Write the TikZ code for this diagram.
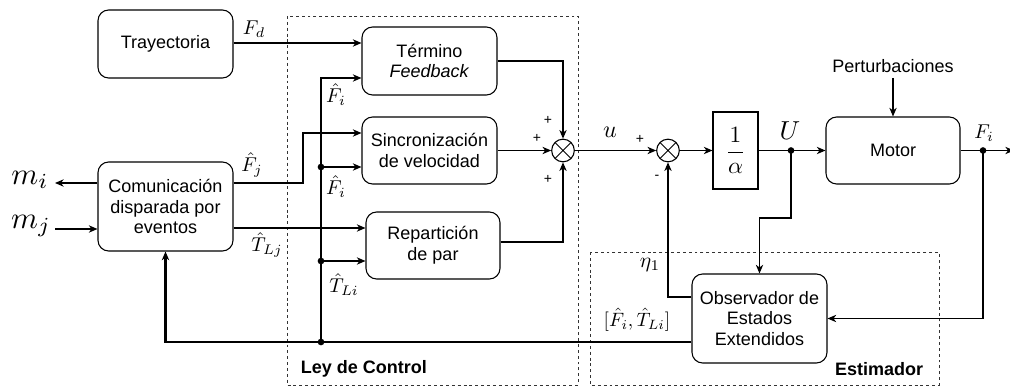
\documentclass[tikz,border=0pt]{standalone}
\usepackage{amsmath}
\usepackage{graphicx}
\usepackage{fontspec}
\setmainfont{Liberation Sans}
\usetikzlibrary{arrows.meta,calc}
\newcommand{\sig}[2]{\scalebox{#1}{$#2$}}
\begin{document}
\begin{tikzpicture}[x=0.75pt,y=-0.75pt,
  >={Stealth[length=6.5pt,width=5.5pt,inset=2pt]},
  line width=0.8pt,
  every node/.style={font=\fontsize{13.5}{15.5}\selectfont},
  blk/.style={draw,rounded corners=8pt,align=center,inner sep=0pt,line width=0.8pt},
  plainblk/.style={draw,inner sep=0pt,line width=0.8pt},
  sumnode/.style={draw,circle,minimum size=17pt,inner sep=0pt,line width=0.8pt,
    path picture={\draw[line width=0.7pt] (path picture bounding box.north west)--(path picture bounding box.south east)
      (path picture bounding box.north east)--(path picture bounding box.south west);}},
  region/.style={draw=black!80,dash pattern=on 2.2pt off 2.2pt,line width=0.7pt},
  jdot/.style={circle,fill,inner sep=0pt,minimum size=5pt},
  mlab/.style={font=\normalsize,inner sep=1pt},
  sgn/.style={font=\fontsize{10.5}{12}\selectfont},
  thickline/.style={line width=2pt}]
\useasboundingbox (0,0) rectangle (1010,388);

% dashed regions
\draw[region] (287,16) rectangle (578,385);
\draw[region] (590,252) rectangle (939,385);
\node[font=\fontsize{13.5}{15.5}\selectfont\bfseries,anchor=west] (leylab) at (296,369) {Ley de Control};
\node[font=\fontsize{13.5}{15.5}\selectfont\bfseries,anchor=east] (estlab) at (928,369) {Estimador};

% blocks
\node[blk,minimum width=101.25pt,minimum height=51pt] (tray) at (165.5,44) {Trayectoria};
\node[blk,minimum width=101.25pt,minimum height=66.75pt] (com) at (165.5,206.5) {Comunicación\\disparada por\\eventos};
\node[blk,minimum width=101.25pt,minimum height=51pt] (term) at (429.5,61) {Término\\\textit{Feedback}};
\node[blk,minimum width=101.25pt,minimum height=50.25pt] (sinc) at (429.5,150.5) {Sincronización\\de velocidad};
\node[blk,minimum width=100.5pt,minimum height=50.25pt] (rep) at (433,245.5) {Repartición\\de par};
\node[sumnode] (s1) at (563,150.5) {};
\node[sumnode] (s2) at (668,150.5) {};
\node[plainblk,minimum width=33.75pt,minimum height=57.75pt] (alp) at (735.5,150.5) {\normalsize\sig{1.75}{\dfrac{1}{\alpha}}};
\node[blk,minimum width=100.5pt,minimum height=50.25pt] (mot) at (893,150.5) {Motor};
\node[blk,minimum width=101.25pt,minimum height=66.75pt] (obs) at (759.5,318.5) {Observador de\\Estados\\Extendidos};
\node (pert) at (893,66) {Perturbaciones};

% junction points
\coordinate (j1) at (321,167);
\coordinate (j2) at (321,261);
\coordinate (j3) at (321,342);
\coordinate (jU) at (791,150.5);
\coordinate (jF) at (983,150.5);
\coordinate (mi) at (55,183);
\coordinate (mj) at (55,229);
\coordinate (fout) at (1014,150.5);

% reference and estimated signals into the control law
\draw[->] (tray.east |- 0,43) -- (term.west |- 0,43);
\draw[->] (j2) -- (321,78) -- (term.west |- 0,78);
\draw[->] (j1) -- (sinc.west |- j1);
\draw[->] (j2) -- (rep.west |- j2);
\draw[->] (com.east |- 0,183) -- (303,183) -- (303,133) -- (sinc.west |- 0,133);
\draw[->] (com.east |- 0,228) -- (rep.west |- 0,228);
\draw[thickline] (j2) -- (j3);

% control law summation
\draw[->] (term.east) -- (term.east -| s1) -- (s1.north);
\draw[->] (sinc.east) -- (s1.west);
\draw[->] (rep.east |- 0,242) -- (s1 |- 0,242) -- (s1.south);

% plant loop
\draw[->] (s1.east) -- (s2.west);
\draw[->] (s2.east) -- (alp.west);
\draw[->] (alp.east) -- (mot.west);
\draw[->] (mot.east) -- (fout);
\draw[->] (pert.south |- 0,78) -- (mot.north);

% estimator connections
\draw[->] (jU) -- (791,218) -- (obs.north |- 0,218) -- (obs.north);
\draw[->] (jF) -- (jF |- obs.east) -- (obs.east);
\draw[->] (obs.west |- 0,297) -- (s2 |- 0,297) -- (s2.south);
\draw[->,thickline] (obs.west |- j3) -- (com.south |- j3) -- (com.south);

% external messages
\draw[->] (com.west |- mi) -- (mi);
\draw[->] (mj) -- (com.west |- mj);

% junction dots
\foreach \p in {j1,j2,j3,jU,jF} \node[jdot] at (\p) {};

% signal labels
\node[mlab] (lfd) at (254,29) {\sig{1.5}{F_d}};
\node[mlab] (lfj) at (252,165) {\sig{1.5}{\hat{F}_j}};
\node[mlab] (ltlj) at (267,245) {\sig{1.5}{\hat{T}_{Lj}}};
\node[mlab] (lfi1) at (336,95) {\sig{1.5}{\hat{F}_i}};
\node[mlab] (lfi2) at (336,187) {\sig{1.5}{\hat{F}_i}};
\node[mlab] (ltli) at (344,285) {\sig{1.5}{\hat{T}_{Li}}};
\node[mlab] (lmi) at (30,180) {\sig{2.3}{m_i}};
\node[mlab] (lmj) at (31,226) {\sig{2.3}{m_j}};
\node[mlab] (lu) at (610,132) {\sig{1.8}{u}};
\node[mlab] (lU) at (790,131) {\sig{1.95}{U}};
\node[mlab] (lFi) at (984,133) {\sig{1.5}{F_i}};
\node[mlab] (leta) at (650,265) {\sig{1.6}{\eta_1}};
\node[mlab] (lest) at (637,320) {\sig{1.45}{[\hat{F}_i,\hat{T}_{Li}]}};

% summation signs
\node[sgn] at (548,120) {+};
\node[sgn] at (537,138) {+};
\node[sgn] at (548,179) {+};
\node[sgn] at (640,139) {+};
\node[sgn] at (657,177) {-};
\end{tikzpicture}
\end{document}
